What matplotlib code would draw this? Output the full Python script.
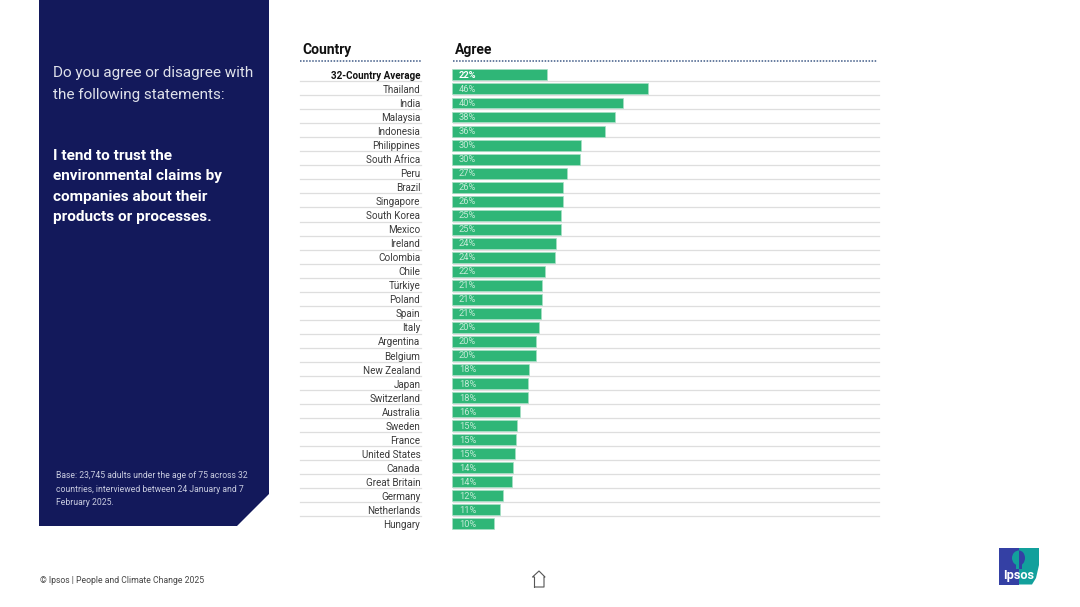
import matplotlib
matplotlib.use("Agg")
import matplotlib.pyplot as plt
from matplotlib.patches import Polygon, Ellipse, Rectangle

plt.rcParams['font.family'] = ['Roboto', 'DejaVu Sans']

# data
countries = ["32-Country Average", "Thailand", "India", "Malaysia", "Indonesia", "Philippines",
             "South Africa", "Peru", "Brazil", "Singapore", "South Korea", "Mexico", "Ireland",
             "Colombia", "Chile", "Türkiye", "Poland", "Spain", "Italy", "Argentina", "Belgium",
             "New Zealand", "Japan", "Switzerland", "Australia", "Sweden", "France",
             "United States", "Canada", "Great Britain", "Germany", "Netherlands", "Hungary"]
agree = [22.4, 46.0, 40.1, 38.4, 36.0, 30.3, 30.1, 27.0, 26.1, 26.1, 25.5, 25.5, 24.4, 24.2,
         21.9, 21.0, 21.0, 20.9, 20.3, 19.8, 19.8, 18.0, 17.8, 17.7, 16.0, 15.2, 15.0, 14.8,
         14.2, 14.0, 12.0, 11.3, 9.8]
labels = ["22%", "46%", "40%", "38%", "36%", "30%", "30%", "27%", "26%", "26%", "25%", "25%",
          "24%", "24%", "22%", "21%", "21%", "21%", "20%", "20%", "20%", "18%", "18%", "18%",
          "16%", "15%", "15%", "15%", "14%", "14%", "12%", "11%", "10%"]

question = "Do you agree or disagree with\nthe following statements:"
statement = "I tend to trust the\nenvironmental claims by\ncompanies about their\nproducts or processes."
base_note = "Base: 23,745 adults under the age of 75 across 32\ncountries, interviewed between 24 January and 7\nFebruary 2025."
footer = "© Ipsos | People and Climate Change 2025"

NAVY = "#13195b"
GREEN = "#2fb677"
BLUE_LOGO = "#3440a4"
TEAL_LOGO = "#12a09c"
W, H = 1080, 607

fig = plt.figure(figsize=(W / 100, H / 100), dpi=100, facecolor="white")

# page furniture in pixel coordinates
bg = fig.add_axes([0, 0, 1, 1])
bg.set_xlim(0, W)
bg.set_ylim(H, 0)
bg.axis("off")

bg.add_patch(Polygon([(39, 0), (269, 0), (269, 494), (237, 526), (39, 526)], closed=True, color=NAVY, lw=0))
bg.text(53, 84, question, color="#dfe1ea", fontsize=10.95, linespacing=1.68, va="center")
bg.text(53, 186.3, statement, color="white", fontsize=11.1, fontweight="bold", linespacing=1.59, va="center")
bg.text(56, 489, base_note, color="#c9cce0", fontsize=6.2, linespacing=1.58, va="center")
bg.text(40, 580.5, footer, color="#444444", fontsize=6.2, va="center")

bg.text(302.5, 49.7, "Country", color="#111111", fontsize=10, fontweight="bold", va="center")
bg.text(454.5, 49.7, "Agree", color="#111111", fontsize=10, fontweight="bold", va="center")
for x0, x1 in [(300, 421), (452.5, 877)]:
    bg.plot([x0, x1], [61.3, 61.3], color="#3f5a86", lw=1.1, ls=(0, (1, 1)))

# row separators
for i in range(len(countries) - 1):
    y = 81.2 + i * 14.03
    bg.plot([300, 421], [y, y], color="#dedede", lw=0.9)
    bg.plot([452.5, 879], [y, y], color="#dedede", lw=0.9)

# house icon
bg.plot([534.5, 534.5, 532.5, 539, 545, 544, 544, 534.5],
        [587, 577, 577, 571, 577, 577, 587, 587], color="#555555", lw=0.8)

# logo, two tone square with a head that swaps colour on the split
bg.add_patch(Rectangle((999, 548), 20, 36.5, color=BLUE_LOGO, lw=0))
bg.add_patch(Polygon([(1019, 548), (1039, 548), (1039, 565), (1036, 578), (1032, 584.5), (1019, 584.5)],
                     closed=True, color=TEAL_LOGO, lw=0))
left_head = Ellipse((1019, 558), 14, 15, color=TEAL_LOGO, lw=0)
bg.add_patch(left_head)
left_head.set_clip_path(Rectangle((999, 548), 20, 36.5, transform=bg.transData))
right_head = Ellipse((1019, 558), 12, 15, color=BLUE_LOGO, lw=0)
bg.add_patch(right_head)
right_head.set_clip_path(Rectangle((1019, 548), 20, 36.5, transform=bg.transData))
bg.add_patch(Rectangle((1016, 563), 3, 5.5, color=TEAL_LOGO, lw=0))
bg.add_patch(Rectangle((1019, 563), 3, 5.5, color=BLUE_LOGO, lw=0))
bg.text(1018.5, 575.5, "Ipsos", color="white", fontsize=9.2, fontweight="bold", ha="center", va="center")

# bar chart, axes placed so rows land on the pixel grid of the picture
top, bottom = 67.9, 530.9
left, right = 452.5, 879
ax = fig.add_axes([left / W, 1 - bottom / H, (right - left) / W, (bottom - top) / H])
ax.patch.set_alpha(0)
ypos = list(range(len(countries)))
ax.barh(ypos, agree, height=0.78, color=GREEN, edgecolor="#a8dfc5", linewidth=0.5)
ax.set_xlim(0, (right - left) / 4.24)
ax.set_ylim(len(countries) - 0.5, -0.5)
ax.set_xticks([])
ax.set_yticks(ypos)
ax.set_yticklabels(countries, fontsize=7.15, color="#3a3a3a")
ax.tick_params(axis="y", length=0, pad=23.2)
ax.get_yticklabels()[0].set_fontweight("bold")
ax.get_yticklabels()[0].set_color("#111111")
for s in ax.spines.values():
    s.set_visible(False)

for i, lab in enumerate(labels):
    ax.text(1.5, i + 0.03, lab, color="white" if i == 0 else "#c4ead7", fontsize=6.7,
            fontweight="bold" if i == 0 else "normal", va="center")

fig.savefig("out.png", dpi=100)
